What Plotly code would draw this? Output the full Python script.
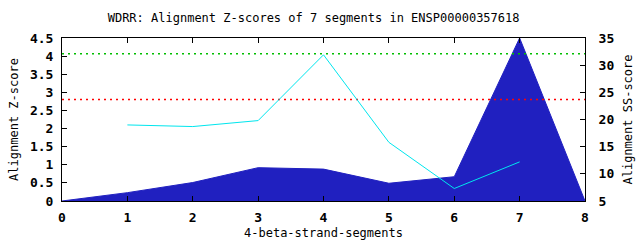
import plotly.graph_objects as go

# Data
seg_x = [0, 1, 2, 3, 4, 5, 6, 7, 8]
z_scores = [0, 0.23, 0.51, 0.92, 0.88, 0.49, 0.67, 4.5, 0]
ss_x = [1, 2, 3, 4, 5, 6, 7]
ss_scores = [19.0, 18.7, 19.8, 31.9, 15.8, 7.3, 12.2]
thresh_x = [0, 8]
green_level = [32.1, 32.1]
red_level = [23.7, 23.7]

FONT = "DejaVu Sans Mono"

fig = go.Figure()
fig.add_trace(go.Scatter(x=seg_x, y=z_scores, mode="lines", fill="tozeroy",
                         fillcolor="rgb(32,32,192)", line=dict(color="rgb(32,32,192)", width=1),
                         yaxis="y", showlegend=False))
fig.add_trace(go.Scatter(x=thresh_x, y=green_level, mode="lines",
                         line=dict(color="rgb(0,190,0)", width=1.5, dash="2px,4px"),
                         yaxis="y2", showlegend=False))
fig.add_trace(go.Scatter(x=thresh_x, y=red_level, mode="lines",
                         line=dict(color="rgb(255,0,0)", width=1.5, dash="2px,4px"),
                         yaxis="y2", showlegend=False))
fig.add_trace(go.Scatter(x=ss_x, y=ss_scores, mode="lines",
                         line=dict(color="rgb(0,230,238)", width=1),
                         yaxis="y2", showlegend=False))

axis_common = dict(showline=True, linecolor="black", linewidth=1, ticks="inside",
                   ticklen=5, tickcolor="black", showgrid=False, zeroline=False,
                   automargin=False,
                   tickfont=dict(family=FONT, size=13, color="black", weight="bold"))
title_font = dict(family=FONT, size=12, color="black")

fig.update_layout(
    width=640, height=240,
    margin=dict(l=62, r=55, t=38, b=39),
    paper_bgcolor="white", plot_bgcolor="white",
    title=dict(text="WDRR: Alignment Z-scores of 7 segments in ENSP00000357618",
               x=0.49, xanchor="center", y=0.925, yanchor="middle",
               font=dict(family=FONT, size=12, color="black")),
    xaxis=dict(range=[0, 8], dtick=1, tick0=0, mirror="ticks", ticklabelstandoff=4,
               title=dict(text="4-beta-strand-segments", standoff=8, font=title_font),
               **axis_common),
    yaxis=dict(range=[0, 4.5], dtick=0.5, tick0=0, mirror=True, ticklabelstandoff=5,
               title=dict(text="Alignment Z-score", standoff=8, font=title_font),
               **axis_common),
    yaxis2=dict(range=[5, 35], dtick=5, tick0=5, overlaying="y", side="right",
                ticklabelstandoff=10,
                title=dict(text="Alignment SS-score", standoff=10, font=title_font),
                **axis_common),
)

fig.write_html("out.html")
